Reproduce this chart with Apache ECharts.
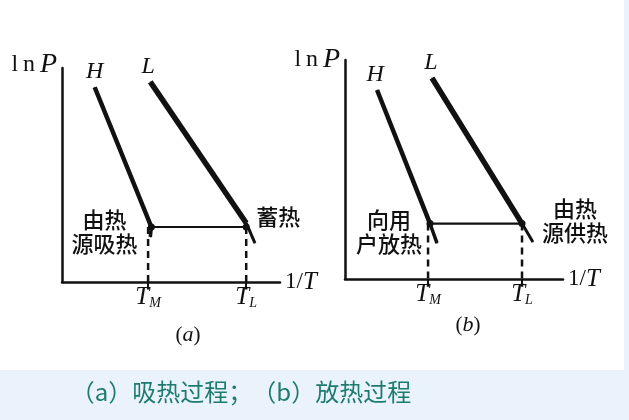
<!DOCTYPE html>
<html><head><meta charset="utf-8">
<script src="https://cdn.jsdelivr.net/npm/echarts@6/dist/echarts.min.js"></script>
<style>html,body{margin:0;padding:0;background:#eaf3fb}#c{width:629px;height:420px}</style>
</head><body><div id="c"></div>
<script>
// ---- data (abstract units: x = 1/T, y = lnP, both 0..10) ----
const axisRange = [0, 10];
// Panel (a): absorbing heat
const aH = [[1.5, 9.1], [4.1, 2.57]];
const aHtail = [[4.1, 2.57], [4.05, 2.1]];
const aL = [[4.05, 9.35], [8.45, 2.76]];
const aLtail = [[8.45, 2.76], [8.85, 1.82]];
const aTie = [[4.1, 2.57], [8.45, 2.57]];
const aTicks = [3.95, 8.45];           // T_M, T_L
// Panel (b): releasing heat
const bH = [[1.47, 8.63], [3.9, 2.53]];
const bHtail = [[3.9, 2.53], [4.22, 1.64]];
const bL = [[3.99, 9.18], [8.12, 2.53]];
const bLtail = [[8.12, 2.53], [8.62, 1.69]];
const bTie = [[3.9, 2.53], [8.12, 2.53]];
const bTicks = [3.81, 8.12];           // T_M, T_L
const tickSubs = ['M', 'L'];
const curveNames = ['H', 'L'];
const panelLetters = ['a', 'b'];
const notesA = ['由热\n源吸热', '蓄热'];
const notesB = ['向用\n户放热', '由热\n源供热'];
const caption = '（a）吸热过程；（b）放热过程';

// ---- styling ----
const INK = '#111';
const SERIF = 'Liberation Serif, DejaVu Serif, serif';
const CJK = 'Noto Sans CJK SC, sans-serif';

function axes(gi, ticks) {
  const x = {
    type: 'value', gridIndex: gi, min: axisRange[0], max: axisRange[1],
    splitLine: {show: false},
    axisLine: {show: true, lineStyle: {color: INK, width: 2.5}},
    axisTick: {show: true, customValues: ticks, length: 5, lineStyle: {color: INK, width: 2}},
    axisLabel: {
      show: true, customValues: ticks, margin: 3,
      formatter: v => '{t|T}{s|' + tickSubs[ticks.indexOf(v)] + '}',
      rich: {
        t: {fontFamily: SERIF, fontStyle: 'italic', fontSize: 25, color: INK, verticalAlign: 'bottom'},
        s: {fontFamily: SERIF, fontStyle: 'italic', fontSize: 14, color: INK, verticalAlign: 'bottom'}
      }
    },
    name: '{r|1/}{i|T}', nameLocation: 'end', nameGap: 5,
    nameTextStyle: {
      align: 'left', verticalAlign: 'middle',
      rich: {
        r: {fontFamily: SERIF, fontSize: 23, color: INK},
        i: {fontFamily: SERIF, fontStyle: 'italic', fontSize: 25, color: INK}
      }
    }
  };
  const y = {
    type: 'value', gridIndex: gi, min: axisRange[0], max: axisRange[1],
    splitLine: {show: false},
    axisLine: {show: true, lineStyle: {color: INK, width: 2.5}},
    axisTick: {show: false}, axisLabel: {show: false},
    name: '{r|l\u2009n\u2009}{i|P}', nameLocation: 'end', nameGap: gi === 0 ? 3 : 0,
    nameTextStyle: {
      align: 'right', verticalAlign: 'middle', padding: [0, 5, 0, 0],
      rich: {
        r: {fontFamily: SERIF, fontSize: 24, color: INK},
        i: {fontFamily: SERIF, fontStyle: 'italic', fontSize: 28, color: INK}
      }
    }
  };
  return [x, y];
}

function line(gi, data, width, extra) {
  return Object.assign({
    type: 'line', xAxisIndex: gi, yAxisIndex: gi, data: data,
    symbol: 'circle', symbolSize: 1, showSymbol: true, showAllSymbol: true,
    itemStyle: {color: INK},
    lineStyle: {color: INK, width: width},
    clip: false, silent: true, animation: false, z: 3
  }, extra || {});
}

function curveData(pts, name, offset) {
  return [{
    value: pts[0],
    label: {show: true, formatter: name, position: 'top', distance: 3, offset: offset,
      fontFamily: SERIF, fontStyle: 'italic', fontSize: 24, color: INK}
  }, pts[1]];
}

function noteLabel(text, offset) {
  return {show: true, formatter: text, position: 'inside', offset: offset,
    align: 'center', verticalAlign: 'middle',
    fontFamily: CJK, fontSize: 22, lineHeight: 24, color: INK, fontWeight: 500};
}

function panel(gi, H, Ht, L, Lt, tie, ticks, notes, offs) {
  const tieY = tie[0][1];
  const dash = {symbol: 'none', lineStyle: {color: INK, width: 2.5, type: [7, 5]}};
  return [
    line(gi, curveData(H, curveNames[0], offs.h), 4.5),
    line(gi, Ht, 3.5),
    line(gi, curveData(L, curveNames[1], offs.l), 5.5),
    line(gi, Lt, 3),
    line(gi, [
      {value: tie[0], label: noteLabel(notes[0], offs.n0)},
      {value: tie[1], label: noteLabel(notes[1], offs.n1)}
    ], 2.2, {symbolSize: 7}),
    line(gi, [[ticks[0], tieY], [ticks[0], -0.35]], 2.5, dash),
    line(gi, [[ticks[1], tieY], [ticks[1], -0.35]], 2.5, dash)
  ];
}

function panelTitle(letter, x, y) {
  return {type: 'text', x: x, y: y, style: {
    text: '{p|(}{i|' + letter + '}{p|)}', align: 'center', verticalAlign: 'middle',
    rich: {
      p: {fontFamily: SERIF, fontSize: 21, fill: INK},
      i: {fontFamily: SERIF, fontStyle: 'italic', fontSize: 22, fill: INK}
    }
  }};
}

const [ax0, ay0] = axes(0, aTicks);
const [ax1, ay1] = axes(1, bTicks);

const option = {
  backgroundColor: '#eaf3fb',
  animation: false,
  grid: [
    {left: 62, top: 68, width: 218, height: 214},
    {left: 345, top: 60, width: 218, height: 219}
  ],
  xAxis: [ax0, ax1],
  yAxis: [ay0, ay1],
  graphic: [
    {type: 'rect', shape: {x: 0, y: 0, width: 624, height: 370}, style: {fill: '#ffffff'}, z: -100, silent: true},
    panelTitle(panelLetters[0], 188, 335),
    panelTitle(panelLetters[1], 468, 325),
    {type: 'text', x: 241, y: 392, style: {text: caption, fontFamily: CJK, fontSize: 24, fill: '#1e7b6f', align: 'center', verticalAlign: 'middle'}}
  ],
  series: [].concat(
    panel(0, aH, aHtail, aL, aLtail, aTie, aTicks, notesA,
      {h: [0, 0], l: [-2, 0], n0: [-47, 5], n1: [32, -10]}),
    panel(1, bH, bHtail, bL, bLtail, bTie, bTicks, notesB,
      {h: [-2, 0], l: [-1, 0], n0: [-41, 8], n1: [53, -3]})
  )
};

const chart = echarts.init(document.getElementById('c'), null, {renderer: 'canvas'});
chart.setOption(option);
</script>
</body></html>
